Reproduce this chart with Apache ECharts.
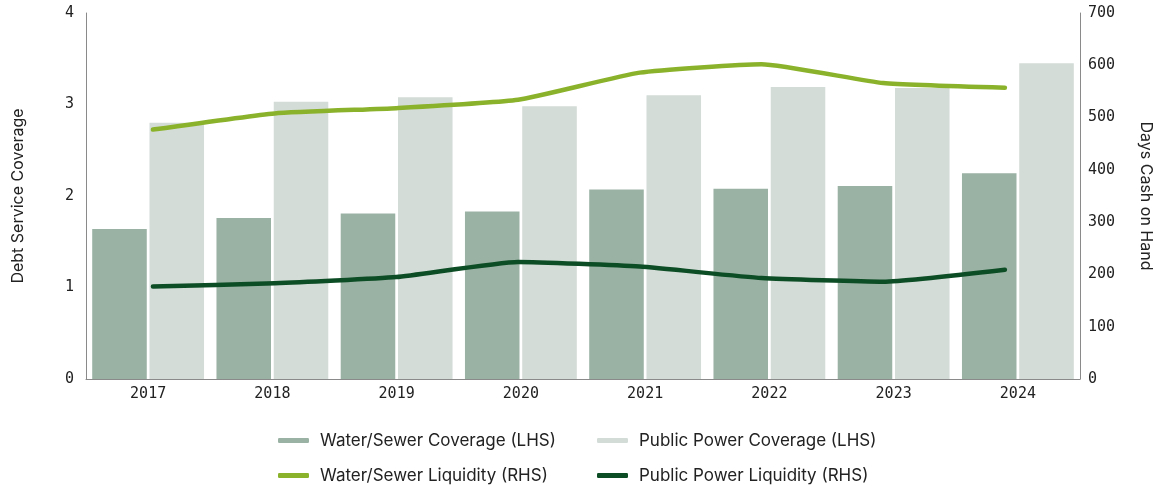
<!DOCTYPE html>
<html>
<head>
<meta charset="utf-8">
<script src="https://cdn.jsdelivr.net/npm/echarts@6/dist/echarts.min.js"></script>
<style>
  html, body { margin: 0; padding: 0; background: #fff; }
  #chart { width: 1159px; height: 487px; }
</style>
</head>
<body>
<div id="chart"></div>
<script>
const years = ["2017", "2018", "2019", "2020", "2021", "2022", "2023", "2024"];
const waterCoverage = [1.64, 1.76, 1.81, 1.83, 2.07, 2.08, 2.11, 2.25];
const powerCoverage = [2.8, 3.03, 3.08, 2.98, 3.1, 3.19, 3.18, 3.45];
const waterLiquidity = [477, 508, 518, 534, 586, 602, 566, 557];
const powerLiquidity = [177, 183, 195, 224, 215, 193, 186, 209];
const leftTicks = [0, 4, 1];
const rightTicks = [0, 700, 100];

const chart = echarts.init(document.getElementById("chart"));

const tickFont = { fontFamily: "DejaVu Sans Mono", fontSize: 15, color: "#222" };
const nameFont = { fontFamily: "Inter", fontSize: 16, color: "#222" };
const legendFont = { fontFamily: "Inter", fontSize: 17, color: "#222", padding: [0, 0, 0, 6] };
const axisLine = { show: true, onZero: false, lineStyle: { color: "#8a8a8a", width: 1 } };

const toPoints = (values) => values.map((v, i) => [i, v]);

const lineSeries = (name, values, color) => ({
  name,
  type: "line",
  xAxisIndex: 1,
  yAxisIndex: 1,
  data: toPoints(values),
  smooth: 0.15,
  symbol: "none",
  z: 5,
  lineStyle: { color, width: 4.5, cap: "round", join: "round" },
  itemStyle: { color },
});

const legendBase = {
  orient: "vertical",
  top: 432,
  padding: 0,
  itemWidth: 31,
  itemHeight: 5,
  itemGap: 18,
  icon: "roundRect",
  textStyle: legendFont,
};

chart.setOption({
  animation: false,
  grid: { left: 86, right: 79, top: 13, bottom: 108, containLabel: false, outerBoundsMode: "none" },
  legend: [
    { ...legendBase, left: 278, data: ["Water/Sewer Coverage (LHS)", "Water/Sewer Liquidity (RHS)"] },
    { ...legendBase, left: 597, data: ["Public Power Coverage (LHS)", "Public Power Liquidity (RHS)"] },
  ],
  xAxis: [
    {
      type: "category",
      data: years,
      axisLine,
      axisTick: { show: false },
      axisLabel: { ...tickFont, margin: 8 },
    },
    {
      type: "value",
      show: false,
      min: -0.55,
      max: 7.617,
    },
  ],
  yAxis: [
    {
      type: "value",
      min: leftTicks[0],
      max: leftTicks[1],
      interval: leftTicks[2],
      name: "Debt Service Coverage",
      nameLocation: "middle",
      nameGap: 60,
      nameTextStyle: nameFont,
      axisLine,
      axisTick: { show: false },
      splitLine: { show: false },
      axisLabel: { ...tickFont, margin: 12 },
    },
    {
      type: "value",
      position: "right",
      min: rightTicks[0],
      max: rightTicks[1],
      interval: rightTicks[2],
      name: "Days Cash on Hand",
      nameLocation: "middle",
      nameGap: 58,
      nameRotate: -90,
      nameTextStyle: nameFont,
      axisLine,
      axisTick: { show: false },
      splitLine: { show: false },
      axisLabel: { ...tickFont, margin: 8 },
    },
  ],
  series: [
    {
      name: "Water/Sewer Coverage (LHS)",
      type: "bar",
      data: waterCoverage,
      barCategoryGap: "10%",
      barGap: "5%",
      itemStyle: { color: "#9ab2a4" },
    },
    {
      name: "Public Power Coverage (LHS)",
      type: "bar",
      data: powerCoverage,
      itemStyle: { color: "#d3dcd7" },
    },
    lineSeries("Water/Sewer Liquidity (RHS)", waterLiquidity, "#8bb22b"),
    lineSeries("Public Power Liquidity (RHS)", powerLiquidity, "#0d4d25"),
  ],
});

window.addEventListener("resize", () => chart.resize());
</script>
</body>
</html>
